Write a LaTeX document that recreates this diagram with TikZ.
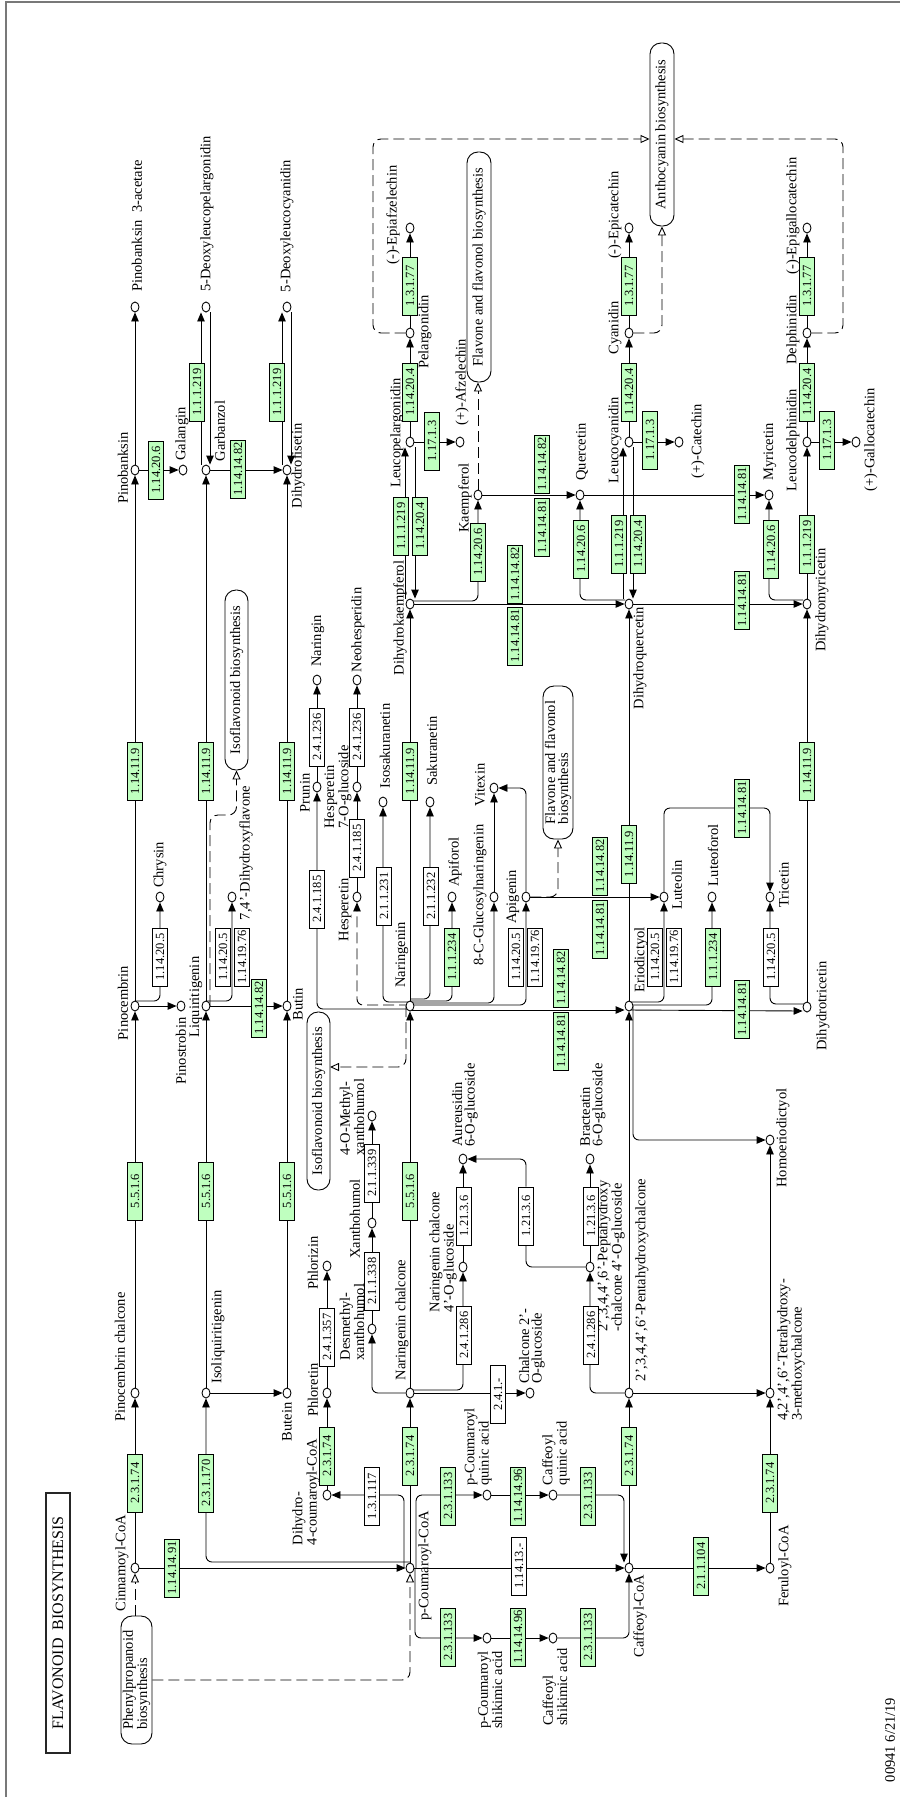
\documentclass[tikz,border=0pt]{standalone}
\usepackage{fontspec}
\setmainfont{Liberation Serif}
\usepackage{tikz}
\usetikzlibrary{shapes.geometric, arrows.meta, positioning, calc, backgrounds}
\definecolor{cEnz}{RGB}{191,255,191}
\definecolor{cFrame}{RGB}{120,120,120}
\tikzset{
	cpd/.style     ={ellipse, draw=black, line width=0.9pt, fill=white, minimum width=8pt, minimum height=10pt, inner sep=0pt},
	enz/.style     ={rectangle, draw=black, line width=0.9pt, fill=cEnz, rotate=90, minimum width=58pt, minimum height=15.5pt, inner sep=0pt, font=\fontsize{12.5}{13}\selectfont},
	enzw/.style    ={enz, fill=white},
	lbl/.style     ={rotate=90, inner sep=0pt, align=left, font=\fontsize{14.5}{12.5}\selectfont},
	mapbox/.style  ={rectangle, rounded corners=11pt, draw=black, line width=0.9pt, fill=white, rotate=90, inner sep=0pt, align=left, font=\fontsize{14.5}{13}\selectfont},
	rxn/.style     ={-{Triangle[length=9pt, width=7.5pt]}, line width=0.9pt, rounded corners=6pt},
	dlink/.style   ={rxn, dash pattern=on 11pt off 5pt},
	maplink/.style ={-{Triangle[open, length=9pt, width=8pt]}, line width=0.9pt, dash pattern=on 11pt off 5pt, rounded corners=8pt},
}
\begin{document}
\begin{tikzpicture}[x=1pt, y=-1pt]
\useasboundingbox (0,0) rectangle (900,1799);
\draw[cFrame, line width=1.2pt] (6,1797) -- (6,2) -- (900,2);

% title and pathway links
\node[draw=black!85, line width=2pt, rotate=90, minimum width=260pt, minimum height=24pt, inner sep=0pt, font=\fontsize{16}{16}\selectfont] (title) at (58,1623) {FLAVONOID\ \ BIOSYNTHESIS};
\node[mapbox, minimum width=128pt, minimum height=31pt] (phenyl) at (136.5,1680) {Phenylpropanoid\\biosynthesis};
\node[mapbox, minimum width=183pt, minimum height=24pt] (anth) at (662,134.5) {Anthocyanin biosynthesis};
\node[mapbox, minimum width=230pt, minimum height=24pt] (flavU) at (479,267) {Flavone and flavonol biosynthesis};
\node[mapbox, minimum width=153pt, minimum height=30pt] (flavL) at (558,762.5) {Flavone and flavonol\\biosynthesis};
\node[mapbox, minimum width=180pt, minimum height=23pt] (isoU) at (236.5,680) {Isoflavonoid biosynthesis};
\node[mapbox, minimum width=178pt, minimum height=23pt] (isoL) at (318.5,1101) {Isoflavonoid biosynthesis};
\coordinate (kAnthL) at (373,139);
\coordinate (kAnthR) at (843,139);
\coordinate (kLiq) at (210,815);
\coordinate (kIsoL) at (330,1067);

% compounds
\node[cpd] (c_cinn) at (135,1568) {};
\node[cpd] (c_pcoa) at (410,1568) {};
\node[cpd] (c_caff) at (629,1568) {};
\node[cpd] (c_feru) at (770,1568) {};
\node[cpd] (c_pcsh) at (487,1638) {};
\node[cpd] (c_cfsh) at (553,1638) {};
\node[cpd] (c_pcqa) at (487,1495) {};
\node[cpd] (c_cfqa) at (553,1495) {};
\node[cpd] (c_dhcoa) at (327,1495) {};
\node[cpd] (c_phlt) at (327,1393) {};
\node[cpd] (c_phlz) at (327,1266) {};
\node[cpd] (c_pchal) at (135,1393) {};
\node[cpd] (c_isoliq) at (206,1393) {};
\node[cpd] (c_butein) at (287,1393) {};
\node[cpd] (c_nchal) at (410,1393) {};
\node[cpd] (c_dmx) at (372,1329) {};
\node[cpd] (c_xan) at (372,1223) {};
\node[cpd] (c_mxan) at (372,1116) {};
\node[cpd] (c_ncg) at (463,1267) {};
\node[cpd] (c_aur) at (463,1159) {};
\node[cpd] (c_c2g) at (530,1393) {};
\node[cpd] (c_penta) at (629,1393) {};
\node[cpd] (c_pentag) at (590,1267) {};
\node[cpd] (c_bract) at (590,1159) {};
\node[cpd] (c_tetra) at (770,1393) {};
\node[cpd] (c_homo) at (770,1140) {};
\node[cpd] (c_pinoc) at (135,1006) {};
\node[cpd] (c_pinos) at (181,1006) {};
\node[cpd] (c_chrys) at (160,897) {};
\node[cpd] (c_liq) at (206,1006) {};
\node[cpd] (c_dhf) at (232,897) {};
\node[cpd] (c_butin) at (287,1006) {};
\node[cpd] (c_nar) at (410,1006) {};
\node[cpd] (c_prun) at (317,787) {};
\node[cpd] (c_naring) at (317,680) {};
\node[cpd] (c_hesp) at (357,897) {};
\node[cpd] (c_hesg) at (357,787) {};
\node[cpd] (c_neoh) at (357,680) {};
\node[cpd] (c_isos) at (383,802) {};
\node[cpd] (c_saku) at (430,802) {};
\node[cpd] (c_apif) at (452,897) {};
\node[cpd] (c_cgn) at (494,897) {};
\node[cpd] (c_vitex) at (494,788) {};
\node[cpd] (c_apig) at (526,897) {};
\node[cpd] (c_erio) at (629,1006) {};
\node[cpd] (c_lut) at (664,897) {};
\node[cpd] (c_lutf) at (712,897) {};
\node[cpd] (c_tric) at (770,897) {};
\node[cpd] (c_dhtr) at (807,1007) {};
\node[cpd] (c_pinob) at (135,470) {};
\node[cpd] (c_galan) at (183,470) {};
\node[cpd] (c_garb) at (206,470) {};
\node[cpd] (c_dhfis) at (287,470) {};
\node[cpd] (c_pb3a) at (135,307) {};
\node[cpd] (c_5dlp) at (206,307) {};
\node[cpd] (c_5dlc) at (287,307) {};
\node[cpd] (c_dhk) at (410,604) {};
\node[cpd] (c_dhq) at (629,604) {};
\node[cpd] (c_dhm) at (807,604) {};
\node[cpd] (c_kaem) at (478,495) {};
\node[cpd] (c_quer) at (580,495) {};
\node[cpd] (c_myri) at (769,495) {};
\node[cpd] (c_lpel) at (410,442) {};
\node[cpd] (c_lcya) at (629,442) {};
\node[cpd] (c_ldel) at (807,442) {};
\node[cpd] (c_afz) at (460,442) {};
\node[cpd] (c_cat) at (679,442) {};
\node[cpd] (c_gcat) at (856,442) {};
\node[cpd] (c_pel) at (410,333) {};
\node[cpd] (c_cya) at (629,333) {};
\node[cpd] (c_del) at (807,333) {};
\node[cpd] (c_epaf) at (410,228) {};
\node[cpd] (c_epc) at (629,228) {};
\node[cpd] (c_epgc) at (807,228) {};

% compound names
\node[lbl] (l_pb3a) at (137,226) {Pinobanksin\ \ 3-acetate};
\node[lbl] (l_5dlp) at (207,214) {5-Deoxyleucopelargonidin};
\node[lbl] (l_5dlc) at (287,226) {5-Deoxyleucocyanidin};
\node[lbl] (l_epaf) at (393,215) {(-)-Epiafzelechin};
\node[lbl] (l_epc) at (615,215) {(-)-Epicatechin};
\node[lbl] (l_epgc) at (793,216) {(-)-Epigallocatechin};
\node[lbl] (l_pel) at (425,332) {Pelargonidin};
\node[lbl] (l_cya) at (615,328) {Cyanidin};
\node[lbl] (l_del) at (793,330) {Delphinidin};
\node[lbl] (l_lpel) at (397,433) {Leucopelargonidin};
\node[lbl] (l_lcya) at (615,440) {Leucocyanidin};
\node[lbl] (l_ldel) at (793,440) {Leucodelphinidin};
\node[lbl] (l_afz) at (462,382) {(+)-Afzelechin};
\node[lbl] (l_cat) at (698,441) {(+)-Catechin};
\node[lbl] (l_gcat) at (871,440) {(+)-Gallocatechin};
\node[lbl] (l_kaem) at (465,498) {Kaempferol};
\node[lbl] (l_quer) at (582,452) {Quercetin};
\node[lbl] (l_myri) at (770,452) {Myricetin};
\node[lbl] (l_pinob) at (123,468) {Pinobanksin};
\node[lbl] (l_galan) at (182,434) {Galangin};
\node[lbl] (l_garb) at (220,431) {Garbanzol};
\node[lbl] (l_dhfis) at (298,466) {Dihydrofisetin};
\node[lbl] (l_dhk) at (400,618) {Dihydrokaempferol};
\node[lbl] (l_dhq) at (640,658) {Dihydroquercetin};
\node[lbl] (l_dhm) at (822,600) {Dihydromyricetin};
\node[lbl] (l_naring) at (318,641) {Naringin};
\node[lbl] (l_prun) at (305,793) {Prunin};
\node[lbl] (l_neoh) at (358,630) {Neohesperidin};
\node[lbl] (l_hesg) at (338,787) {Hesperetin\\7-O-glucoside};
\node[lbl] (l_hesp) at (345,910) {Hesperetin};
\node[lbl] (l_isos) at (385,746) {Isosakuranetin};
\node[lbl] (l_saku) at (432,751) {Sakuranetin};
\node[lbl] (l_apif) at (455,862) {Apiforol};
\node[lbl] (l_vitex) at (480,785) {Vitexin};
\node[lbl] (l_cgn) at (480,895) {8-C-Glucosylnaringenin};
\node[lbl] (l_apig) at (513,897) {Apigenin};
\node[lbl] (l_lut) at (677,885) {Luteolin};
\node[lbl] (l_lutf) at (713,855) {Luteoforol};
\node[lbl] (l_tric) at (784,885) {Tricetin};
\node[lbl] (l_chrys) at (160,865) {Chrysin};
\node[lbl] (l_dhf) at (246,853) {7,4'-Dihydroxyflavone};
\node[lbl] (l_pinoc) at (123,1003) {Pinocembrin};
\node[lbl] (l_pinos) at (181,1051) {Pinostrobin};
\node[lbl] (l_liq) at (196,997) {Liquiritigenin};
\node[lbl] (l_butin) at (298,1004) {Butin};
\node[lbl] (l_nar) at (402,955) {Naringenin};
\node[lbl] (l_erio) at (641,960) {Eriodictyol};
\node[lbl] (l_dhtr) at (823,1006) {Dihydrotricetin};
\node[lbl] (l_homo) at (783,1138) {Homoeriodictyol};
\node[lbl] (l_mxan) at (352,1117) {4-O-Methyl-\\xanthohumol};
\node[lbl] (l_xan) at (355,1219) {Xanthohumol};
\node[lbl] (l_dmx) at (352,1322) {Desmethyl-\\xanthohumol};
\node[lbl] (l_aur) at (465,1105) {Aureusidin\\6-O-glucoside};
\node[lbl] (l_bract) at (593,1105) {Bracteatin\\6-O-glucoside};
\node[lbl] (l_ncg) at (443,1252) {Naringenin chalcone\\4'-O-glucoside};
\node[lbl] (l_pentag) at (611,1256) {2',3,4,4',6'-Peptahydroxy\\-chalcone 4'-O-glucoside};
\node[lbl] (l_penta) at (642,1280) {2',3,4,4',6'-Pentahydroxychalcone};
\node[lbl] (l_tetra) at (791,1350) {4,2',4',6'-Tetrahydroxy-\\3-methoxychalcone};
\node[lbl] (l_c2g) at (532,1346) {Chalcone 2'-\\O-glucoside};
\node[lbl] (l_pchal) at (120,1357) {Pinocembrin chalcone};
\node[lbl] (l_isoliq) at (218,1337) {Isoliquiritigenin};
\node[lbl] (l_butein) at (287,1422) {Butein};
\node[lbl] (l_nchal) at (402,1320) {Naringenin chalcone};
\node[lbl] (l_phlz) at (313,1263) {Phlorizin};
\node[lbl] (l_phlt) at (313,1390) {Phloretin};
\node[lbl] (l_dhcoa) at (306,1492) {Dihydro-\\4-coumaroyl-CoA};
\node[lbl] (l_pcqa) at (478,1447) {p-Coumaroyl\\quinic acid};
\node[lbl] (l_cfqa) at (556,1453) {Caffeoyl\\quinic acid};
\node[lbl] (l_pcsh) at (490,1690) {p-Coumaroyl\\shikimic acid};
\node[lbl] (l_cfsh) at (555,1687) {Caffeoyl\\shikimic acid};
\node[lbl] (l_cinn) at (122,1563) {Cinnamoyl-CoA};
\node[lbl] (l_pcoa) at (425,1566) {p-Coumaroyl-CoA};
\node[lbl] (l_caff) at (640,1616) {Caffeoyl-CoA};
\node[lbl] (l_feru) at (785,1566) {Feruloyl-CoA};
\node[lbl] (l_date) at (890,1740) {00941 6/21/19};

% enzymes, upper part
\node[enz] (e01) at (156,470) {1.14.20.6};
\node[enz] (e02) at (197,392) {1.1.1.219};
\node[enz] (e03) at (238,469) {1.14.14.82};
\node[enz] (e04) at (277,392) {1.1.1.219};
\node[enz] (e05) at (135,771) {1.14.11.9};
\node[enz] (e06) at (206,771) {1.14.11.9};
\node[enz] (e07) at (287,771) {1.14.11.9};
\node[enz] (e08) at (410,771) {1.14.11.9};
\node[enz] (e09) at (401,526) {1.1.1.219};
\node[enz] (e10) at (420,526) {1.14.20.4};
\node[enz] (e11) at (410,392) {1.14.20.4};
\node[enz] (e12) at (410,286) {1.3.1.77};
\node[enz] (e13) at (432,441) {1.17.1.3};
\node[enz] (e14) at (478,552) {1.14.20.6};
\node[enz] (e15) at (515,574) {1.14.14.82};
\node[enz] (e16) at (515,636) {1.14.14.81};
\node[enz] (e17) at (542,464) {1.14.14.82};
\node[enz] (e18) at (542,527) {1.14.14.81};
\node[enz] (e19) at (742,494) {1.14.14.81};
\node[enz] (e20) at (581,549) {1.14.20.6};
\node[enz] (e21) at (619,544) {1.1.1.219};
\node[enz] (e22) at (638,544) {1.14.20.4};
\node[enz] (e23) at (629,392) {1.14.20.4};
\node[enz] (e24) at (629,286) {1.3.1.77};
\node[enz] (e25) at (650,440) {1.17.1.3};
\node[enz] (e26) at (742,600) {1.14.14.81};
\node[enz] (e27) at (771,549) {1.14.20.6};
\node[enz] (e28) at (807,544) {1.1.1.219};
\node[enz] (e29) at (807,392) {1.14.20.4};
\node[enz] (e30) at (807,286) {1.3.1.77};
\node[enz] (e31) at (827,440) {1.17.1.3};
% enzymes, flavanones
\node[enzw] (e32) at (160,957) {1.14.20.5};
\node[enzw] (e33) at (223,957) {1.14.20.5};
\node[enzw] (e34) at (242,957) {1.14.19.76};
\node[enz] (e35) at (259,1008) {1.14.14.82};
\node[enzw] (e36) at (317,899) {2.4.1.185};
\node[enzw] (e37) at (317,737) {2.4.1.236};
\node[enzw] (e38) at (357,848) {2.4.1.185};
\node[enzw] (e39) at (357,737) {2.4.1.236};
\node[enzw] (e40) at (384,896) {2.1.1.231};
\node[enzw] (e41) at (431,896) {2.1.1.232};
\node[enz] (e42) at (452,957) {1.1.1.234};
\node[enzw] (e43) at (516,957) {1.14.20.5};
\node[enzw] (e44) at (535,957) {1.14.19.76};
\node[enz] (e45) at (600,866) {1.14.14.82};
\node[enz] (e46) at (600,929) {1.14.14.81};
\node[enz] (e47) at (561,978) {1.14.14.82};
\node[enz] (e48) at (561,1041) {1.14.14.81};
\node[enz] (e49) at (629,854) {1.14.11.9};
\node[enzw] (e50) at (655,957) {1.14.20.5};
\node[enzw] (e51) at (674,957) {1.14.19.76};
\node[enz] (e52) at (713,957) {1.1.1.234};
\node[enz] (e53) at (742,808) {1.14.14.81};
\node[enz] (e54) at (742,1009) {1.14.14.81};
\node[enzw] (e55) at (771,957) {1.14.20.5};
\node[enz] (e56) at (807,771) {1.14.11.9};
% enzymes, chalcones and CoA esters
\node[enz] (e57) at (135,1191) {5.5.1.6};
\node[enz] (e58) at (206,1191) {5.5.1.6};
\node[enz] (e59) at (287,1191) {5.5.1.6};
\node[enz] (e60) at (410,1191) {5.5.1.6};
\node[enzw] (e61) at (372,1281) {2.1.1.338};
\node[enzw] (e62) at (372,1173) {2.1.1.339};
\node[enzw] (e63) at (464,1335) {2.4.1.286};
\node[enzw] (e64) at (464,1216) {1.21.3.6};
\node[enzw] (e65) at (498,1394) {2.4.1.-};
\node[enzw] (e66) at (591,1335) {2.4.1.286};
\node[enzw] (e67) at (591,1216) {1.21.3.6};
\node[enzw] (e68) at (526,1216) {1.21.3.6};
\node[enzw] (e69) at (327,1337) {2.4.1.357};
\node[enz] (e70) at (327,1456) {2.3.1.74};
\node[enzw] (e71) at (372,1496) {1.3.1.117};
\node[enz] (e72) at (410,1456) {2.3.1.74};
\node[enz] (e73) at (135,1483) {2.3.1.74};
\node[enz] (e74) at (206,1483) {2.3.1.170};
\node[enz] (e75) at (172,1568) {1.14.14.91};
\node[enz] (e76) at (448,1496) {2.3.1.133};
\node[enz] (e77) at (518,1496) {1.14.14.96};
\node[enz] (e78) at (588,1496) {2.3.1.133};
\node[enz] (e79) at (448,1637) {2.3.1.133};
\node[enz] (e80) at (518,1637) {1.14.14.96};
\node[enz] (e81) at (588,1637) {2.3.1.133};
\node[enzw] (e82) at (519,1566) {1.14.13.-};
\node[enz] (e83) at (629,1456) {2.3.1.74};
\node[enz] (e84) at (701,1566) {2.1.1.104};
\node[enz] (e85) at (770,1483) {2.3.1.74};

\begin{scope}[on background layer]
% CoA esters
\draw[maplink] (phenyl.east -| c_cinn) -- (c_cinn);
\draw[maplink] (phenyl.south) -| (c_pcoa);
\draw[rxn] (c_cinn) -- (c_pcoa);
\draw[rxn] (c_cinn) -- (c_pchal);
\draw[rxn] ($(c_pcoa)+(0,-6)$) -| (c_isoliq);
\draw[rxn] (c_pcoa) -- (c_nchal);
\draw[rxn] ($(c_pcoa)+(-6,0)$) |- (c_dhcoa);
\draw[rxn] ($(c_pcoa)+(6,0)$) |- (c_pcqa);
\draw[rxn] ($(c_pcoa)+(5,0)$) |- (c_pcsh);
\draw[rxn] (c_pcoa) -- (c_caff);
\draw[rxn] (c_pcqa) -- (c_cfqa);
\draw[rxn] (c_cfqa) -| ($(c_caff.north)+(-5,0)$);
\draw[rxn] (c_pcsh) -- (c_cfsh);
\draw[rxn] (c_cfsh) -| (c_caff);
\draw[rxn] (c_caff) -- (c_feru);
\draw[rxn] (c_caff) -- (c_penta);
\draw[rxn] (c_feru) -- (c_tetra);
\draw[rxn] (c_dhcoa) -- (c_phlt);
\draw[rxn] (c_phlt) -- (c_phlz);
% chalcones
\draw[rxn] (c_pchal) -- (c_pinoc);
\draw[rxn] (c_isoliq) -- (c_liq);
\draw[rxn] (c_isoliq) -- (c_butein);
\draw[rxn] (c_butein) -- (c_butin);
\draw[rxn] (c_nchal) -- (c_nar);
\draw[rxn] (c_nchal) -| (c_dmx);
\draw[rxn] (c_dmx) -- (c_xan);
\draw[rxn] (c_xan) -- (c_mxan);
\draw[rxn] ($(c_nchal)+(0,-3)$) -| (c_ncg);
\draw[rxn] (c_nchal) -- (c_c2g);
\draw[rxn] (c_ncg) -- (c_aur);
\draw[rxn] (c_penta) -| (c_pentag);
\draw[rxn] (c_pentag) -- (c_bract);
\draw[rxn] (c_pentag) -| (e68) |- (c_aur);
\draw[rxn] (c_penta) -- (c_tetra);
\draw[rxn] (c_penta) -- (c_erio);
\draw[rxn] (c_tetra) -- (c_homo);
\draw[rxn] ($(c_erio)+(4,0)$) |- (c_homo);
% flavanones
\draw[rxn] (c_pinoc) -- (c_pinos);
\draw[rxn] ($(c_pinoc)+(0,-5)$) -| (c_chrys);
\draw[rxn] (c_pinoc) -- (c_pinob);
\draw[rxn] ($(c_liq)+(0,-5)$) -| (c_dhf);
\draw[maplink] ($(c_liq)+(4,0)$) -- (kLiq) -| (isoU.west);
\draw[rxn] (c_liq) -- (c_garb);
\draw[rxn] (c_liq) -- (c_butin);
\draw[rxn] (c_butin) -- (c_dhfis);
\draw[rxn] (c_nar) -- (c_dhk);
\draw[maplink] ($(c_nar)+(-4,0)$) |- (kIsoL);
\draw[rxn] ($(c_nar)+(0,3)$) -| (c_prun);
\draw[rxn] (c_prun) -- (c_naring);
\draw[dlink] ($(c_nar)+(0,-1)$) -| (c_hesp);
\draw[rxn] (c_hesp) -- (c_hesg);
\draw[rxn] (c_hesg) -- (c_neoh);
\draw[rxn] ($(c_nar)+(0,-4)$) -| (c_isos);
\draw[rxn] ($(c_nar)+(0,-7)$) -| (c_saku);
\draw[rxn] ($(c_nar)+(0,-5)$) -| (c_apif);
\draw[rxn] ($(c_nar)+(0,-3)$) -| (c_cgn);
\draw[rxn] ($(c_nar)+(0,-1)$) -| (c_apig);
\draw[rxn] (c_cgn) -- (c_vitex);
\draw[rxn] (c_apig) |- (c_vitex);
\draw[maplink] (c_apig) -| (flavL.west);
\draw[rxn] (c_apig) -- (c_lut);
\draw[rxn] ($(c_nar)+(0,4)$) -- ($(c_erio.west)+(0,4)$);
\draw[rxn] (c_erio) -- (c_dhq);
\draw[rxn] ($(c_erio)+(0,-4)$) -| (c_lut);
\draw[rxn] ($(c_erio)+(0,-1)$) -| (c_lutf);
\draw[rxn] (c_lut) |- (e53) -| (c_tric);
\draw[rxn] ($(c_erio)+(0,4)$) -- ($(c_dhtr.west)+(0,4)$);
\draw[rxn] ($(c_dhtr)+(0,-3)$) -| (c_tric);
\draw[rxn] (c_dhtr) -- (c_dhm);
% dihydroflavonols and onwards
\draw[rxn] (c_pinob) -- (c_pb3a);
\draw[rxn] (c_pinob) -- (c_galan);
\draw[rxn] (c_garb) -- (c_dhfis);
\draw[rxn] ($(c_garb.north)+(-5,0)$) -- ($(c_5dlp.south)+(-5,0)$);
\draw[rxn] ($(c_5dlp.south)+(4,0)$) -- ($(c_garb.north)+(4,0)$);
\draw[rxn] ($(c_dhfis.north)+(-5,0)$) -- ($(c_5dlc.south)+(-5,0)$);
\draw[rxn] ($(c_5dlc.south)+(4,0)$) -- ($(c_dhfis.north)+(4,0)$);
\draw[rxn] ($(c_dhk.north)+(-5,0)$) -- ($(c_lpel.south)+(-5,0)$);
\draw[rxn] ($(c_lpel.south)+(5,0)$) -- ($(c_dhk.north)+(5,0)$);
\draw[rxn] (c_lpel) -- (c_pel);
\draw[rxn] (c_pel) -- (c_epaf);
\draw[rxn] (c_lpel) -- (c_afz);
\draw[maplink] (c_pel) -| (kAnthL) -- (anth.north |- kAnthL);
\draw[rxn] ($(c_dhk)+(0,-3)$) -| (c_kaem);
\draw[rxn] (c_dhk) -- (c_dhq);
\draw[maplink] (c_kaem) -- (flavU.west -| c_kaem);
\draw[rxn] (c_kaem) -- (c_quer);
\draw[rxn] (c_quer) -- (c_myri);
\draw[rxn] ($(c_dhq)+(-4,-4)$) -| (c_quer);
\draw[rxn] (c_dhq) -- (c_dhm);
\draw[rxn] ($(c_dhm)+(-4,-4)$) -| (c_myri);
\draw[rxn] ($(c_dhq.north)+(-6,0)$) -- ($(c_lcya.south)+(-6,0)$);
\draw[rxn] ($(c_lcya.south)+(4,0)$) -- ($(c_dhq.north)+(4,0)$);
\draw[rxn] (c_lcya) -- (c_cya);
\draw[rxn] (c_cya) -- (c_epc);
\draw[rxn] (c_lcya) -- (c_cat);
\draw[maplink] (c_cya) -| (anth.west);
\draw[rxn] (c_dhm) -- (c_ldel);
\draw[rxn] (c_ldel) -- (c_del);
\draw[rxn] (c_del) -- (c_epgc);
\draw[rxn] (c_ldel) -- (c_gcat);
\draw[maplink] (c_del) -| (kAnthR) -- (anth.south |- kAnthR);
\end{scope}
\end{tikzpicture}
\end{document}
